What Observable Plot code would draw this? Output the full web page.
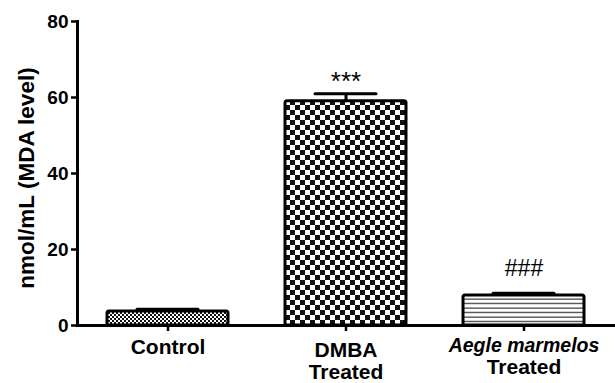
<!DOCTYPE html>
<html><head><meta charset="utf-8">
<script src="https://cdn.jsdelivr.net/npm/d3@7"></script>
<script src="https://cdn.jsdelivr.net/npm/@observablehq/plot@0.6"></script>
<style>body{margin:0;background:#fff} svg{font-family:"Liberation Sans",Arial,sans-serif}</style>
</head><body><div id="chart"></div>
<script>
const categories = ["Control", "DMBA\nTreated", "Aegle marmelos\nTreated"];
const values = [3.7, 59.0, 7.9];
const sem = [0.6, 2.0, 0.6];
const significance = ["", "***", "###"];
const patternIds = ["pat-fine", "pat-check", "pat-lines"];
const yTicks = [0, 20, 40, 60, 80];
const yLabel = "nmol/mL (MDA level)";

const data = categories.map((c, i) => ({
  category: c, value: values[i], top: values[i] + sem[i],
  sig: significance[i], pattern: `url(#${patternIds[i]})`
}));

const plot = Plot.plot({
  width: 615, height: 383,
  marginLeft: 77, marginRight: 0, marginTop: 21, marginBottom: 58,
  style: {fontFamily: "Liberation Sans, Arial, sans-serif", color: "black", background: "white"},
  x: {domain: categories, paddingInner: 0.32, paddingOuter: 0.17},
  y: {domain: [0, 80]},
  color: {type: "identity"},
  marks: [
    Plot.barY(data, {x: "category", y: "value", fill: "pattern", stroke: "black", strokeWidth: 3, rx: 2}),
    Plot.ruleX(data, {x: "category", y1: "value", y2: "top", stroke: "black", strokeWidth: 3}),
    Plot.tickY(data, {x: "category", y: "top", stroke: "black", strokeWidth: 3, inset: 30, strokeLinecap: "round"}),
    Plot.text(data.filter(d => d.sig === "***"), {x: "category", y: "top", text: "sig", lineAnchor: "bottom", dy: -4, fontSize: 26, letterSpacing: 3}),
    Plot.text(data.filter(d => d.sig === "###"), {x: "category", y: "top", text: "sig", lineAnchor: "bottom", dy: -17, fontSize: 23, letterSpacing: 1}),
    Plot.ruleY([0], {strokeWidth: 3}),
    Plot.frame({anchor: "left", strokeWidth: 3}),
    Plot.axisY({ticks: yTicks, tickSize: 6, tickPadding: 3, fontSize: 19, fontWeight: "bold", label: null, strokeWidth: 2.5}),
    Plot.axisX({tickSize: 6, tickPadding: 7, fontSize: 21, fontWeight: "bold", label: null, lineHeight: 1.07, strokeWidth: 2.5}),
    Plot.text([yLabel], {frameAnchor: "left", rotate: -90, dx: -44, dy: 4.5, textAnchor: "middle", lineAnchor: "bottom", fontSize: 22.5, fontWeight: "bold"})
  ]
});

const svg = d3.select(plot);
const defs = svg.insert("defs", ":first-child");
// fine checker (Control)
const p1 = defs.append("pattern").attr("id", "pat-fine").attr("patternUnits", "userSpaceOnUse").attr("width", 4).attr("height", 4);
p1.append("rect").attr("width", 4).attr("height", 4).attr("fill", "#fff");
p1.append("rect").attr("width", 2).attr("height", 2).attr("fill", "#111");
p1.append("rect").attr("x", 2).attr("y", 2).attr("width", 2).attr("height", 2).attr("fill", "#111");
// large checker (DMBA)
const p2 = defs.append("pattern").attr("id", "pat-check").attr("patternUnits", "userSpaceOnUse").attr("width", 10).attr("height", 10);
p2.append("rect").attr("width", 10).attr("height", 10).attr("fill", "#fff");
p2.append("rect").attr("width", 5).attr("height", 5).attr("fill", "#111");
p2.append("rect").attr("x", 5).attr("y", 5).attr("width", 5).attr("height", 5).attr("fill", "#111");
// horizontal lines (Aegle)
const p3 = defs.append("pattern").attr("id", "pat-lines").attr("patternUnits", "userSpaceOnUse").attr("width", 8).attr("height", 4.5);
p3.append("rect").attr("width", 8).attr("height", 4.5).attr("fill", "#fff");
p3.append("rect").attr("y", 1.5).attr("width", 8).attr("height", 1.2).attr("fill", "#333");

// y tick label size
svg.selectAll('g[aria-label="y-axis tick label"]').attr("font-size", 19);
svg.selectAll('g[aria-label="y-axis tick label"] text').attr("font-size", 19);

// x tick label tweaks
const offsets = [0, 2.5, -1.5];
svg.selectAll('g[aria-label="x-axis tick label"] text').each(function(d, i) {
  const t = d3.select(this);
  const tr = t.attr("transform") || "";
  t.attr("transform", tr + ` translate(0,${offsets[i] || 0})`);
  if (i === 2) {
    const first = t.select("tspan");
    if (!first.empty()) first.attr("font-style", "italic").attr("font-size", 19.5);
  }
});

document.getElementById("chart").appendChild(plot);
</script></body></html>
